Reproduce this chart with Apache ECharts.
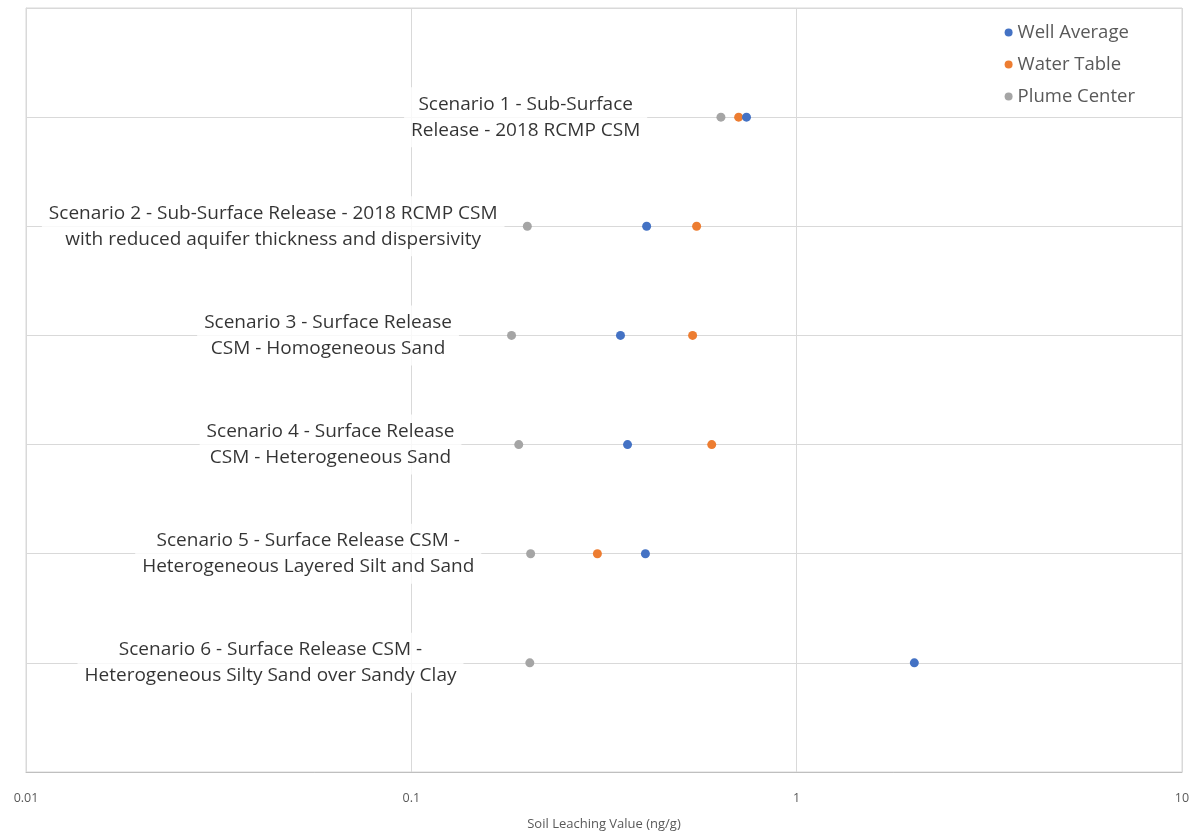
<!DOCTYPE html>
<html><head><meta charset="utf-8">
<script src="https://cdn.jsdelivr.net/npm/echarts@6/dist/echarts.min.js"></script>
<style>html,body{margin:0;padding:0;background:#fff}#c{width:1196px;height:835px}</style>
</head><body><div id="c"></div>
<script>
// row positions (y value) for each scenario, top to bottom
const rows = [6, 5, 4, 3, 2, 1];
const scenarioLabels = [
  "Scenario 1 - Sub-Surface\nRelease - 2018 RCMP CSM",
  "Scenario 2 - Sub-Surface Release - 2018 RCMP CSM\nwith reduced aquifer thickness and dispersivity",
  "Scenario 3 - Surface Release\nCSM - Homogeneous Sand",
  "Scenario 4 - Surface Release\nCSM - Heterogeneous Sand",
  "Scenario 5 - Surface Release CSM -\nHeterogeneous Layered Silt and Sand",
  "Scenario 6 - Surface Release CSM -\nHeterogeneous Silty Sand over Sandy Clay"
];
// label anchor (x value, centre of text) for each scenario
const labelAnchor = [0.198, 0.0438, 0.0608, 0.0617, 0.054, 0.0431];
const wellAverage = [0.741, 0.408, 0.349, 0.364, 0.405, 2.02];
const waterTable  = [0.707, 0.550, 0.537, 0.602, 0.304, null];
const plumeCenter = [0.636, 0.200, 0.182, 0.190, 0.204, 0.203];
const xTicks = [0.01, 0.1, 1, 10];

const pair = arr => arr.map((v, i) => v == null ? null : [v, rows[i]]).filter(d => d);
const grid = '#d9d9d9';
const font = '"Open Sans", "Noto Sans", sans-serif';

const chart = echarts.init(document.getElementById('c'));
chart.setOption({
  animation: false,
  grid: {left: 26, right: 14, top: 8, bottom: 63, show: true, borderColor: grid, borderWidth: 1,
    containLabel: false, outerBoundsMode: 'none'},
  xAxis: {
    type: 'log', logBase: 10, min: 0.01, max: 10,
    name: 'Soil Leaching Value (ng/g)', nameLocation: 'middle', nameGap: 46,
    nameTextStyle: {fontFamily: font, fontSize: 13, color: '#595959'},
    axisLine: {show: true, lineStyle: {color: '#bfbfbf'}},
    axisTick: {show: false},
    axisLabel: {fontFamily: font, fontSize: 12.5, color: '#595959', margin: 20,
      formatter: v => { const m = xTicks.find(t => Math.abs(Math.log10(t) - Math.log10(v)) < 1e-6); return m != null ? String(m) : ''; }},
    splitLine: {show: true, lineStyle: {color: grid}}
  },
  yAxis: {
    type: 'value', min: 0, max: 7, interval: 1,
    axisLabel: {show: false}, axisTick: {show: false},
    axisLine: {show: true, lineStyle: {color: grid}},
    splitLine: {show: true, lineStyle: {color: grid}}
  },
  legend: {
    data: ['Well Average', 'Water Table', 'Plume Center'],
    orient: 'vertical', right: 56, top: 18, itemGap: 13,
    icon: 'circle', itemWidth: 8, itemHeight: 8,
    textStyle: {fontFamily: font, fontSize: 18.5, color: '#595959'}
  },
  series: [
    {
      name: 'labels', type: 'scatter', symbolSize: 0, silent: true, z: 1,
      data: labelAnchor.map((v, i) => ({value: [v, rows[i]], label: {formatter: scenarioLabels[i]}})),
      label: {show: true, position: 'inside', align: 'center', verticalAlign: 'middle',
        fontFamily: font, fontSize: 19, lineHeight: 26, color: '#000',
        backgroundColor: '#fff', padding: [4, 7]}
    },
    {name: 'Plume Center', type: 'scatter', symbol: 'circle', symbolSize: 9, z: 3,
      itemStyle: {color: '#A5A5A5', opacity: 1}, data: pair(plumeCenter)},
    {name: 'Water Table', type: 'scatter', symbol: 'circle', symbolSize: 9, z: 4,
      itemStyle: {color: '#ED7D31', opacity: 1}, data: pair(waterTable)},
    {name: 'Well Average', type: 'scatter', symbol: 'circle', symbolSize: 9, z: 5,
      itemStyle: {color: '#4472C4', opacity: 1}, data: pair(wellAverage)}
  ]
});
</script></body></html>
